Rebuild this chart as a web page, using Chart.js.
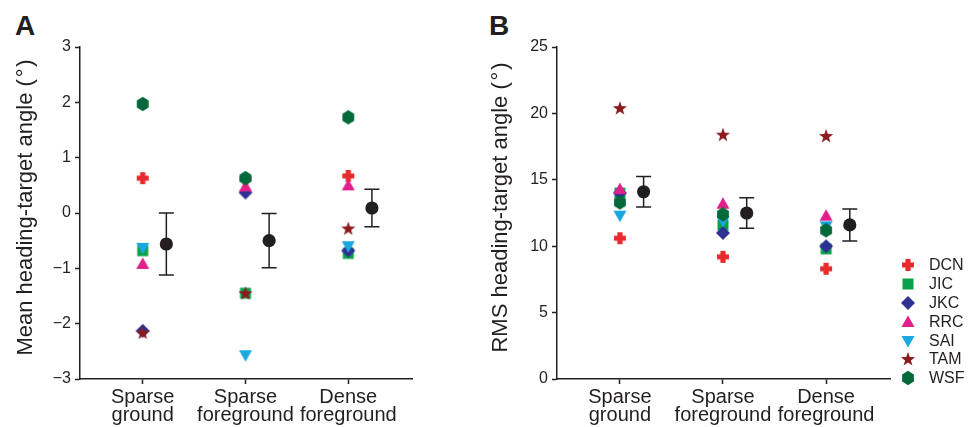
<!DOCTYPE html>
<html>
<head>
<meta charset="utf-8">
<script src="https://cdn.jsdelivr.net/npm/chart.js@4.4.1/dist/chart.umd.min.js"></script>
<style>
  body { margin: 0; background: #fff; width: 978px; height: 427px; position: relative; overflow: hidden;
         font-family: "Liberation Sans", Arial, sans-serif; color: #231f20; }
  canvas.panel { position: absolute; top: 0; }
  .letter { position: absolute; font-weight: bold; font-size: 28px; line-height: 28px; }
  #legend { position: absolute; left: 899px; top: 256px; }
  .row { height: 18.8px; display: flex; align-items: center; font-size: 16px; }
  .row canvas { margin-right: 12px; }
</style>
</head>
<body>
<div class="letter" style="left:15px;top:12px">A</div>
<div class="letter" style="left:489px;top:12px">B</div>
<canvas id="chartA" class="panel" style="left:0px" width="440" height="427"></canvas>
<canvas id="chartB" class="panel" style="left:440px" width="460" height="427"></canvas>
<div id="legend"></div>
<script>
const INK = '#231f20';
const FONT = '"Liberation Sans", Arial, sans-serif';

const categories = [['Sparse', 'ground'], ['Sparse', 'foreground'], ['Dense', 'foreground']];
const subjects = ['DCN', 'JIC', 'JKC', 'RRC', 'SAI', 'TAM', 'WSF'];
const subjectColors = ['#e92a2c', '#0aa14b', '#2e3192', '#e2208b', '#1ba7e0', '#8c1b1f', '#02693a'];
const subjectShapes = ['cross', 'square', 'diamond', 'triUp', 'triDown', 'star', 'hexagon'];

// panel A: mean heading-target angle (deg)
const meanDCN = [0.63, 0.62, 0.67];
const meanJIC = [-0.68, -1.45, -0.73];
const meanJKC = [-2.13, 0.37, -0.68];
const meanRRC = [-0.92, 0.48, 0.50];
const meanSAI = [-0.63, -2.57, -0.60];
const meanTAM = [-2.16, -1.45, -0.28];
const meanWSF = [1.97, 0.63, 1.73];
const meanAvg = [-0.56, -0.50, 0.09];
const meanErr = [0.56, 0.49, 0.34];

// panel B: RMS heading-target angle (deg)
const rmsDCN = [10.6, 9.2, 8.3];
const rmsJIC = [14.0, 11.6, 9.8];
const rmsJKC = [14.0, 11.0, 10.0];
const rmsRRC = [14.3, 13.2, 12.3];
const rmsSAI = [12.3, 11.9, 11.5];
const rmsTAM = [20.4, 18.4, 18.3];
const rmsWSF = [13.3, 12.4, 11.2];
const rmsAvg = [14.1, 12.5, 11.6];
const rmsErr = [1.15, 1.15, 1.2];

const meanSeries = [meanDCN, meanJIC, meanJKC, meanRRC, meanSAI, meanTAM, meanWSF];
const rmsSeries = [rmsDCN, rmsJIC, rmsJKC, rmsRRC, rmsSAI, rmsTAM, rmsWSF];

function shapeCanvas(shape, color) {
  const c = document.createElement('canvas');
  c.width = 18; c.height = 18;
  const g = c.getContext('2d');
  g.fillStyle = color;
  g.beginPath();
  const cx = 9, cy = 9;
  if (shape === 'cross') {
    const a = 6, w = 2.6;
    g.moveTo(cx - w, cy - a); g.lineTo(cx + w, cy - a); g.lineTo(cx + w, cy - w); g.lineTo(cx + a, cy - w);
    g.lineTo(cx + a, cy + w); g.lineTo(cx + w, cy + w); g.lineTo(cx + w, cy + a); g.lineTo(cx - w, cy + a);
    g.lineTo(cx - w, cy + w); g.lineTo(cx - a, cy + w); g.lineTo(cx - a, cy - w); g.lineTo(cx - w, cy - w);
  } else if (shape === 'square') {
    g.rect(cx - 5.5, cy - 5.5, 11, 11);
  } else if (shape === 'diamond') {
    g.moveTo(cx, cy - 7); g.lineTo(cx + 7, cy); g.lineTo(cx, cy + 7); g.lineTo(cx - 7, cy);
  } else if (shape === 'triUp') {
    g.moveTo(cx, cy - 6.5); g.lineTo(cx + 6.5, cy + 5); g.lineTo(cx - 6.5, cy + 5);
  } else if (shape === 'triDown') {
    g.moveTo(cx, cy + 6.5); g.lineTo(cx + 6.5, cy - 5); g.lineTo(cx - 6.5, cy - 5);
  } else if (shape === 'star') {
    for (let i = 0; i < 10; i++) {
      const r = i % 2 ? 3 : 7.5;
      const t = -Math.PI / 2 + i * Math.PI / 5;
      g.lineTo(cx + r * Math.cos(t), cy + 0.5 + r * Math.sin(t));
    }
  } else if (shape === 'hexagon') {
    for (let i = 0; i < 6; i++) {
      const t = -Math.PI / 2 + i * Math.PI / 3;
      g.lineTo(cx + 6.8 * Math.cos(t), cy + 7.2 * Math.sin(t));
    }
  }
  g.closePath();
  g.fill();
  return c;
}

const errorBars = {
  id: 'errorBars',
  afterDatasetsDraw(chart) {
    const { ctx, scales: { x, y } } = chart;
    const ds = chart.data.datasets.find(d => d.errors);
    ctx.save();
    ctx.strokeStyle = INK;
    ctx.lineWidth = 1.5;
    ds.data.forEach((p, i) => {
      const px = x.getPixelForValue(p.x);
      const top = y.getPixelForValue(p.y + ds.errors[i]);
      const bot = y.getPixelForValue(p.y - ds.errors[i]);
      ctx.beginPath();
      ctx.moveTo(px, top); ctx.lineTo(px, bot);
      ctx.moveTo(px - 7.5, top); ctx.lineTo(px + 7.5, top);
      ctx.moveTo(px - 7.5, bot); ctx.lineTo(px + 7.5, bot);
      ctx.stroke();
    });
    ctx.restore();
  }
};

function makePanel(id, series, avg, err, yMin, yMax, step, title, padLeft, yWidth, padRight) {
  const datasets = series.map((vals, s) => ({
    label: subjects[s],
    data: vals.map((v, i) => ({ x: i + 1, y: v })),
    pointStyle: shapeCanvas(subjectShapes[s], subjectColors[s]),
    order: subjects.length - s + 1,
    clip: false,
  }));
  datasets.push({
    label: 'Mean',
    data: avg.map((v, i) => ({ x: i + 1.23, y: v })),
    errors: err,
    pointStyle: 'circle',
    pointRadius: 6.6,
    backgroundColor: INK,
    borderColor: INK,
    borderWidth: 0,
    order: 0,
    clip: false,
  });

  return new Chart(document.getElementById(id), {
    type: 'scatter',
    data: { datasets },
    plugins: [errorBars],
    options: {
      responsive: false,
      animation: false,
      layout: { padding: { left: padLeft, right: padRight, top: 47, bottom: 0 } },
      plugins: { legend: { display: false }, tooltip: { enabled: false } },
      scales: {
        x: {
          type: 'linear', min: 0.39, max: 3.62,
          afterBuildTicks: s => { s.ticks = [1, 2, 3].map(v => ({ value: v })); },
          afterFit: s => { s.height = 48; },
          ticks: {
            callback: (v, i) => categories[i],
            color: INK, font: { family: FONT, size: 20, lineHeight: 0.88 },
            padding: 5, maxRotation: 0, autoSkip: false,
          },
          grid: { drawOnChartArea: false, tickLength: 5, tickColor: INK, tickWidth: 1.5 },
          border: { color: INK, width: 1.5 },
        },
        y: {
          min: yMin, max: yMax,
          afterFit: s => { s.width = yWidth; },
          ticks: {
            stepSize: step, color: INK, font: { family: FONT, size: 16 }, padding: 4,
            callback: v => String(v).replace('-', '\u2212'),
          },
          grid: { drawOnChartArea: false, tickLength: 5, tickColor: INK, tickWidth: 1.5 },
          border: { color: INK, width: 1.5 },
          title: { display: true, text: title, color: INK, font: { family: FONT, size: 22 }, padding: { top: 4, bottom: 4 } },
        },
      },
    },
  });
}

makePanel('chartA', meanSeries, meanAvg, meanErr, -3, 3, 1, '\u2002Mean heading-target angle (\u200a°\u200a)', 9, 71, 28);
makePanel('chartB', rmsSeries, rmsAvg, rmsErr, 0, 25, 5, '\u2002RMS heading-target angle (\u200a°\u200a)', 44, 73, 10);

const legend = document.getElementById('legend');
subjects.forEach((name, s) => {
  const row = document.createElement('div');
  row.className = 'row';
  row.appendChild(shapeCanvas(subjectShapes[s], subjectColors[s]));
  const t = document.createElement('span');
  t.textContent = name;
  row.appendChild(t);
  legend.appendChild(row);
});
</script>
</body>
</html>
